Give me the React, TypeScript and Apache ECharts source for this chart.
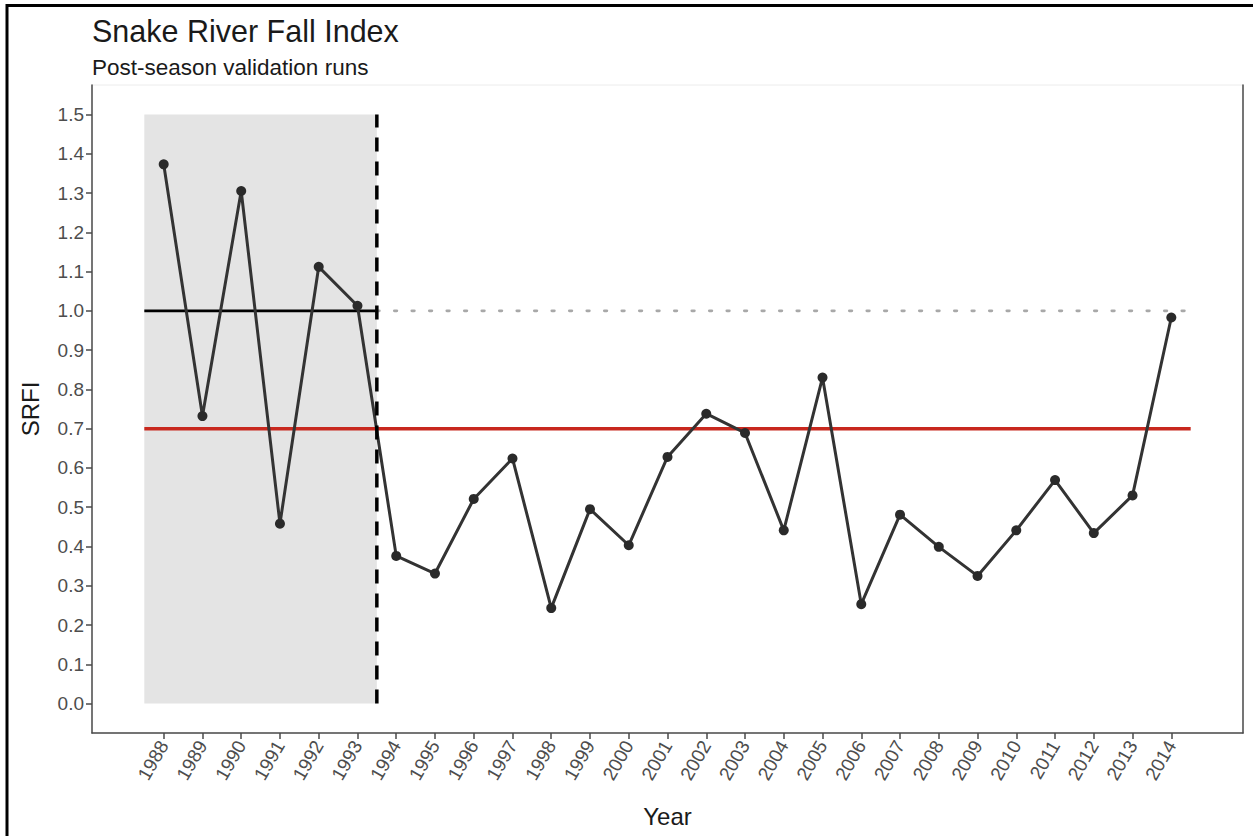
import React, { useEffect, useRef } from "react";
import * as echarts from "echarts";

// ---- data ----
const years = [
  1988, 1989, 1990, 1991, 1992, 1993, 1994, 1995, 1996, 1997, 1998, 1999, 2000,
  2001, 2002, 2003, 2004, 2005, 2006, 2007, 2008, 2009, 2010, 2011, 2012, 2013, 2014,
];
const srfi = [
  1.373, 0.732, 1.305, 0.458, 1.112, 1.013, 0.376, 0.331, 0.521, 0.624, 0.243, 0.495,
  0.403, 0.628, 0.738, 0.689, 0.441, 0.83, 0.253, 0.481, 0.399, 0.325, 0.441, 0.569,
  0.434, 0.53, 0.983,
];
const yTicks = [0, 0.1, 0.2, 0.3, 0.4, 0.5, 0.6, 0.7, 0.8, 0.9, 1.0, 1.1, 1.2, 1.3, 1.4, 1.5];

// reference elements
const baselinePeriod = [1987.5, 1993.5];
const fullPeriod = [1987.5, 2014.5];
const baselineLevel = 1.0;
const targetLevel = 0.7;
const shadeBottom = 0;
const shadeTop = 1.5;

// axis limits (ggplot-like 5% expansion)
const xMin = 1986.15;
const xMax = 2015.85;
const yMin = -0.075;
const yMax = 1.575;

const FONT = "Liberation Sans, Arial, Helvetica, sans-serif";

export default function App() {
  const ref = useRef<HTMLDivElement>(null);

  useEffect(() => {
    document.body.style.margin = "0";
    if (!ref.current) return;
    const chart = echarts.init(ref.current, undefined, { renderer: "svg" });
    const axisColor = "#4a4a4a";

    const option: any = {
      animation: false,
      backgroundColor: "#ffffff",
      textStyle: { fontFamily: FONT },
      title: [
        {
          text: "Snake River Fall Index",
          left: 92,
          top: 15,
          padding: 0,
          textStyle: { fontSize: 30.5, fontWeight: "normal", color: "#1a1a1a", fontFamily: FONT },
        },
        {
          text: "Post-season validation runs",
          left: 92,
          top: 56,
          padding: 0,
          textStyle: { fontSize: 22.5, fontWeight: "normal", color: "#1a1a1a", fontFamily: FONT },
        },
      ],
      graphic: [
        {
          type: "rect",
          shape: { x: 7, y: 5.5, width: 1300, height: 900 },
          style: { fill: "none", stroke: "#000000", lineWidth: 3 },
          silent: true,
          z: 100,
        },
      ],
      grid: {
        left: 92,
        right: 10,
        top: 85,
        bottom: 103,
        show: true,
        borderColor: "#ececec",
        borderWidth: 1,
        backgroundColor: "#ffffff",
      },
      xAxis: {
        type: "value",
        min: xMin,
        max: xMax,
        name: "Year",
        nameLocation: "middle",
        nameGap: 71,
        nameTextStyle: { fontSize: 24, color: "#1a1a1a", fontFamily: FONT },
        splitLine: { show: false },
        axisLine: { show: true, onZero: false, lineStyle: { color: axisColor, width: 1.5 } },
        axisTick: {
          show: true,
          customValues: years,
          length: 6,
          lineStyle: { color: axisColor, width: 1.5 },
        },
        axisLabel: {
          customValues: years,
          rotate: 60,
          fontSize: 19,
          color: "#4d4d4d",
          margin: 9,
          fontFamily: FONT,
          formatter: (v: number) => String(Math.round(v)),
        },
      },
      yAxis: [
        {
          type: "value",
          min: yMin,
          max: yMax,
          name: "SRFI",
          nameLocation: "middle",
          nameGap: 50,
          nameTextStyle: { fontSize: 24, color: "#1a1a1a", fontFamily: FONT },
          splitLine: { show: false },
          axisLine: { show: true, onZero: false, lineStyle: { color: axisColor, width: 1.5 } },
          axisTick: {
            show: true,
            customValues: yTicks,
            length: 6,
            lineStyle: { color: axisColor, width: 1.5 },
          },
          axisLabel: {
            customValues: yTicks,
            fontSize: 19,
            color: "#4d4d4d",
            margin: 8,
            fontFamily: FONT,
            formatter: (v: number) => v.toFixed(1),
          },
        },
        {
          type: "value",
          position: "right",
          min: yMin,
          max: yMax,
          splitLine: { show: false },
          axisLine: { show: true, onZero: false, lineStyle: { color: axisColor, width: 1.5 } },
          axisTick: { show: false },
          axisLabel: { show: false },
        },
      ],
      series: [
        {
          name: "shade",
          type: "line",
          data: [],
          silent: true,
          z: 1,
          markArea: {
            silent: true,
            itemStyle: { color: "#e4e4e4" },
            data: [
              [
                { coord: [baselinePeriod[0], shadeBottom] },
                { coord: [baselinePeriod[1], shadeTop] },
              ],
            ],
          },
        },
        {
          name: "baseline",
          type: "line",
          data: [
            [baselinePeriod[0], baselineLevel],
            [baselinePeriod[1], baselineLevel],
          ],
          showSymbol: false,
          silent: true,
          z: 2,
          lineStyle: { color: "#000000", width: 2.8 },
        },
        {
          name: "baseline-ext",
          type: "line",
          data: [
            [baselinePeriod[1], baselineLevel],
            [fullPeriod[1], baselineLevel],
          ],
          showSymbol: false,
          silent: true,
          z: 2,
          lineStyle: { color: "#a8a8a8", width: 2.8, type: [2.5, 15], cap: "round" },
        },
        {
          name: "target",
          type: "line",
          data: [
            [fullPeriod[0], targetLevel],
            [fullPeriod[1], targetLevel],
          ],
          showSymbol: false,
          silent: true,
          z: 3,
          lineStyle: { color: "#c8281e", width: 3.5 },
        },
        {
          name: "SRFI",
          type: "line",
          data: years.map((y, i) => [y, srfi[i]]),
          symbol: "circle",
          symbolSize: 10,
          showSymbol: true,
          z: 4,
          lineStyle: { color: "#333333", width: 3 },
          itemStyle: { color: "#2a2a2a" },
        },
        {
          name: "break",
          type: "line",
          data: [
            [baselinePeriod[1], shadeBottom],
            [baselinePeriod[1], shadeTop],
          ],
          showSymbol: false,
          silent: true,
          z: 5,
          lineStyle: { color: "#000000", width: 3.5, type: [14, 10] },
        },
      ],
    };

    chart.setOption(option);
    return () => chart.dispose();
  }, []);

  return <div ref={ref} style={{ width: 1253, height: 836 }} />;
}
